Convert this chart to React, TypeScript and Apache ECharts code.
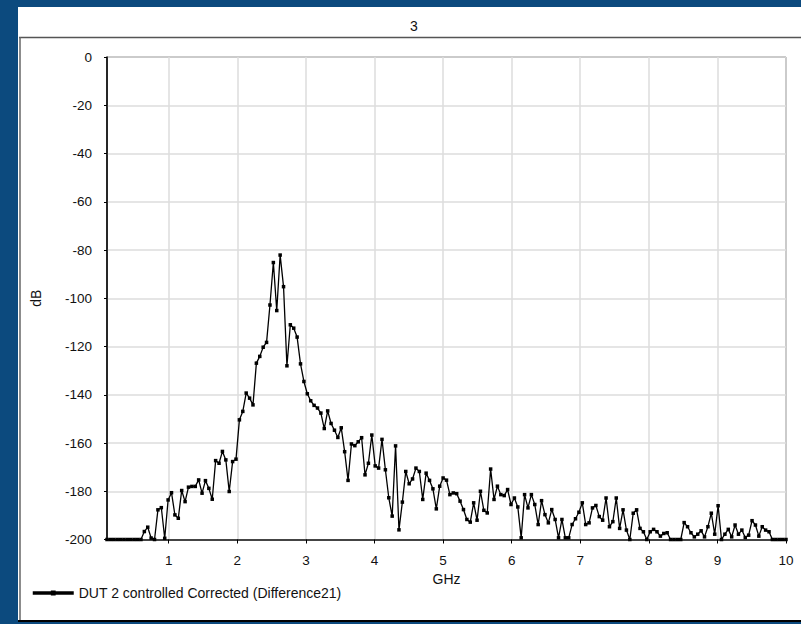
import React, { useEffect, useRef } from 'react';
import * as echarts from 'echarts';

const CHART_TITLE = '3';
const SERIES_NAME = 'DUT 2 controlled Corrected (Difference21)';
const X_NAME = 'GHz';
const Y_NAME = 'dB';

// Linear sweep definition (201 points from 0.1 GHz to 10 GHz)
const FREQ_START_GHZ = 0.1;
const FREQ_STOP_GHZ = 10;

const X_TICKS = [1, 2, 3, 4, 5, 6, 7, 8, 9, 10];
const Y_MIN = -200;
const Y_MAX = 0;
const Y_STEP = 20;

const DB_VALUES = [
  -200, -200, -200, -200, -200, -200, -200, -200, -200, -200,
  -200, -196.7, -194.9, -199.4, -200, -187.7, -186.8, -199.5, -183.6, -180.6,
  -189.8, -191.2, -179.7, -184.3, -178.3, -178, -178, -175.3, -180.8, -175.6,
  -178.8, -183.3, -167.3, -168.4, -163.5, -167, -180.1, -167.7, -166.7, -150.4,
  -146.9, -139.3, -141.4, -144.2, -126.9, -124.1, -120.3, -118.3, -102.8, -85.2,
  -105.1, -82.1, -95.2, -128, -111, -112.4, -116.1, -127.2, -134.5, -139.6,
  -142.5, -144.4, -145.5, -147.6, -154, -146.7, -151.9, -154.7, -157.7, -153.7,
  -163.6, -175.5, -160.4, -161.1, -159.5, -157.8, -173.2, -168.4, -156.7, -169.5,
  -170.4, -158.5, -171.1, -182.7, -190.3, -161.2, -196, -184.5, -171.8, -176.9,
  -174.9, -170.4, -171.8, -183.4, -172.5, -175.5, -179, -187.3, -177.9, -174.5,
  -175.4, -181.4, -180.7, -181, -184.1, -187.6, -191.7, -192.8, -184.8, -192,
  -180, -187.9, -189, -170.8, -183.4, -177.9, -181.4, -181.8, -179.3, -185.5,
  -182.8, -186.5, -199.3, -181.4, -186.9, -181.4, -185.5, -193.8, -183.9, -189.7,
  -193.1, -187.6, -191.7, -199.3, -191.7, -199.3, -199.3, -193.8, -191.4, -188.7,
  -184.8, -193.8, -193.1, -186.9, -185.9, -190.5, -192, -182.8, -194.7, -192.6,
  -182.8, -195.4, -187.7, -196.1, -200, -189.1, -187.7, -195.4, -196.8, -200,
  -196.8, -195.8, -196.8, -198.6, -197.5, -197.2, -200, -200, -200, -200,
  -193, -194.7, -197.2, -198.9, -197.8, -196.4, -198.9, -194.7, -189.1, -197.8,
  -186, -200, -197.8, -195.8, -198.9, -194, -197.8, -196.1, -199.2, -198.2,
  -192.2, -194, -198.6, -194.7, -196.1, -196.8, -200, -200, -200, -200,
  -200,
];

const FONT = '"Liberation Sans", Arial, sans-serif';

export default function App() {
  const ref = useRef<HTMLDivElement>(null);

  useEffect(() => {
    if (!ref.current) return;
    const chart = echarts.init(ref.current, undefined, { renderer: 'svg' });
    const n = DB_VALUES.length;
    const step = (FREQ_STOP_GHZ - FREQ_START_GHZ) / (n - 1);
    const points = DB_VALUES.map((v, i) => [FREQ_START_GHZ + i * step, v]);

    chart.setOption({
      animation: false,
      backgroundColor: '#0c4a7e',
      textStyle: { fontFamily: FONT },
      title: {
        text: CHART_TITLE,
        left: 405,
        top: 14,
        textStyle: { fontSize: 14, fontWeight: 'normal', color: '#111', fontFamily: FONT },
      },
      graphic: [
        {
          type: 'rect',
          z: -10,
          shape: { x: 18, y: 7, width: 800, height: 615 },
          style: { fill: '#ffffff' },
          silent: true,
        },
        {
          type: 'line',
          z: -9,
          shape: { x1: 19, y1: 37.5, x2: 801, y2: 37.5 },
          style: { stroke: '#555555', lineWidth: 1.5 },
          silent: true,
        },
        {
          type: 'line',
          z: -9,
          shape: { x1: 20, y1: 37, x2: 20, y2: 621 },
          style: { stroke: '#666666', lineWidth: 1.5 },
          silent: true,
        },
        {
          type: 'line',
          z: -9,
          shape: { x1: 18, y1: 621, x2: 801, y2: 621 },
          style: { stroke: '#000000', lineWidth: 2 },
          silent: true,
        },
      ],
      grid: {
        left: 107,
        top: 57,
        width: 679,
        height: 482.5,
        show: true,
        borderColor: '#333333',
        borderWidth: 1,
        backgroundColor: 'transparent',
      },
      legend: {
        left: 26,
        top: 581,
        itemWidth: 41,
        itemHeight: 6,
        data: [SERIES_NAME],
        lineStyle: { width: 3.5 },
        textStyle: { fontSize: 14, color: '#111', fontFamily: FONT },
      },
      xAxis: {
        type: 'value',
        min: FREQ_START_GHZ,
        max: FREQ_STOP_GHZ,
        name: X_NAME,
        nameLocation: 'middle',
        nameGap: 31,
        nameTextStyle: { fontSize: 14, color: '#111', fontFamily: FONT },
        axisLine: { show: true, onZero: false, lineStyle: { color: '#444', width: 2 } },
        axisTick: { show: true, customValues: X_TICKS, length: 4, lineStyle: { color: '#000' } },
        axisLabel: { customValues: X_TICKS, margin: 14, fontSize: 13.5, color: '#111', fontFamily: FONT },
        splitLine: { show: true, lineStyle: { color: '#dcdcdc', width: 1.5 } },
      },
      yAxis: {
        type: 'value',
        min: Y_MIN,
        max: Y_MAX,
        interval: Y_STEP,
        name: Y_NAME,
        nameLocation: 'middle',
        nameGap: 64.5,
        nameTextStyle: { fontSize: 14, color: '#111', fontFamily: FONT },
        axisLine: { show: true, onZero: false, lineStyle: { color: '#000', width: 1.5 } },
        axisTick: { show: true, length: 3, lineStyle: { color: '#000' } },
        axisLabel: { margin: 15, fontSize: 13.5, color: '#111', fontFamily: FONT },
        splitLine: { show: true, lineStyle: { color: '#dcdcdc', width: 1.5 } },
      },
      series: [
        {
          type: 'line',
          name: SERIES_NAME,
          data: points,
          symbol: 'rect',
          symbolSize: 3.5,
          showAllSymbol: true,
          lineStyle: { color: '#000', width: 1.3 },
          itemStyle: { color: '#000' },
          clip: true,
        },
      ],
    });

    return () => chart.dispose();
  }, []);

  return (
    <div
      ref={ref}
      style={{ position: 'absolute', left: 0, top: 0, width: 801, height: 624 }}
    />
  );
}
